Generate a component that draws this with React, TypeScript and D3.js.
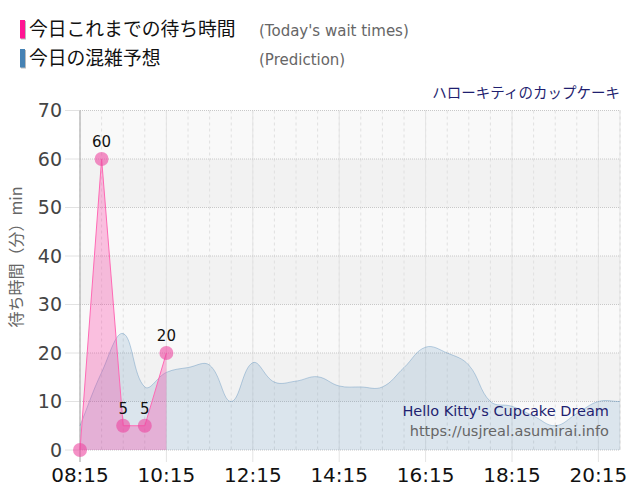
import React from "react";
import * as d3 from "d3";

const actualTimes = ["08:15", "08:45", "09:15", "09:45", "10:15"];
const actualValues = [0, 60, 5, 5, 20];

const predTimes = [
  "08:15", "08:45", "09:15", "09:45", "10:15", "10:45", "11:15", "11:45",
  "12:15", "12:45", "13:15", "13:45", "14:15", "14:45", "15:15", "15:45",
  "16:15", "16:45", "17:15", "17:45", "18:15", "18:45", "19:15", "19:45",
  "20:15", "20:45",
];
const predValues = [
  5, 16, 24, 13, 16, 17, 17.5, 10,
  18, 14, 14.2, 15.1, 13.2, 13, 13, 17,
  21.2, 20, 17.5, 10, 9, 7, 5, 7.5,
  10, 10,
];

const xTickLabels = ["08:15", "10:15", "12:15", "14:15", "16:15", "18:15", "20:15"];
const yTicks = [0, 10, 20, 30, 40, 50, 60, 70];

const legendJa = ["今日これまでの待ち時間", "今日の混雑予想"];
const legendEn = ["(Today's wait times)", "(Prediction)"];
const legendColors = ["#ff1493", "#4682b4"];
const titleText = "ハローキティのカップケーキ";
const yTitle = "待ち時間（分）min";
const watermark1 = "Hello Kitty's Cupcake Dream";
const watermark2 = "https://usjreal.asumirai.info";

const toMin = (s: string) => {
  const [h, m] = s.split(":").map(Number);
  return h * 60 + m;
};

const W = 640, H = 500;
const L = 80, R = 620, T = 110.5, B = 450;
const x = d3.scaleLinear().domain([toMin("08:15"), toMin("20:45")]).range([L, R]);
const y = d3.scaleLinear().domain([0, 70]).range([B, T]);

const latin = "'DejaVu Sans', Verdana, sans-serif";
const cjk = "'Noto Sans CJK JP', 'Noto Sans', sans-serif";

// Chart.js-like bezier spline (tension 0.4)
function splinePath(pts: [number, number][], tension = 0.4, closeTo?: number) {
  const p = d3.path();
  const cps = pts.map((cur, i) => {
    const prev = pts[i - 1] || cur;
    const next = pts[i + 1] || cur;
    const d01 = Math.hypot(cur[0] - prev[0], cur[1] - prev[1]);
    const d12 = Math.hypot(next[0] - cur[0], next[1] - cur[1]);
    let s01 = d01 / (d01 + d12);
    let s12 = d12 / (d01 + d12);
    if (!isFinite(s01)) s01 = 0;
    if (!isFinite(s12)) s12 = 0;
    const fa = tension * s01, fb = tension * s12;
    const c1: [number, number] = [cur[0] - fa * (next[0] - prev[0]), cur[1] - fa * (next[1] - prev[1])];
    const c2: [number, number] = [cur[0] + fb * (next[0] - prev[0]), cur[1] + fb * (next[1] - prev[1])];
    c1[1] = Math.min(Math.max(c1[1], T), B);
    c2[1] = Math.min(Math.max(c2[1], T), B);
    return { c1, c2 };
  });
  p.moveTo(pts[0][0], pts[0][1]);
  for (let i = 1; i < pts.length; i++) {
    const a = cps[i - 1].c2, b = cps[i].c1;
    p.bezierCurveTo(a[0], a[1], b[0], b[1], pts[i][0], pts[i][1]);
  }
  if (closeTo !== undefined) {
    p.lineTo(pts[pts.length - 1][0], closeTo);
    p.lineTo(pts[0][0], closeTo);
    p.closePath();
  }
  return p.toString();
}

export default function App() {
  const predPts: [number, number][] = predTimes.map((t, i) => [x(toMin(t)), y(predValues[i])]);
  const actPts: [number, number][] = actualTimes.map((t, i) => [x(toMin(t)), y(actualValues[i])]);

  const line = d3.line<[number, number]>().x((d) => d[0]).y((d) => d[1]);
  const area = d3.area<[number, number]>().x((d) => d[0]).y0(y(0)).y1((d) => d[1]);

  const bands = d3.range(0, 70, 10);
  const gridMins = d3.range(toMin("08:15"), toMin("20:45") + 1, 30);

  return (
    <svg width={W} height={H} style={{ display: "block", position: "absolute", left: 0, top: 0 }}>
      <rect width={W} height={H} fill="#fff" />
      {legendJa.map((t, i) => (
        <g key={t}>
          <rect x={21} y={21 + i * 29} width={5} height={18.5} fill="#bbb" />
          <rect x={20} y={20 + i * 29} width={5} height={18.5} fill={legendColors[i]} />
          <text x={29} y={36 + i * 29} fontFamily={cjk} fontSize={18.8} fill="#111">{t}</text>
          <text x={259} y={36 + i * 29} fontFamily={latin} fontSize={15} fill="#666">{legendEn[i]}</text>
        </g>
      ))}
      <text x={620} y={98} textAnchor="end" fontFamily={cjk} fontSize={14.5} fill="#1f1f70">{titleText}</text>

      {bands.map((v) => (
        <rect key={v} x={L} y={y(v + 10)} width={R - L} height={y(v) - y(v + 10)}
          fill={(v / 10) % 2 === 1 ? "#f2f2f2" : "#f9f9f9"} />
      ))}
      {gridMins.map((m) => (
        <line key={m} x1={x(m)} x2={x(m)} y1={T} y2={B} stroke="#e0e0e0" strokeDasharray="3,3" />
      ))}
      {xTickLabels.map((t) => (
        <line key={t} x1={x(toMin(t))} x2={x(toMin(t))} y1={T} y2={B + 12} stroke="#e4e4e4" />
      ))}
      <line x1={R} x2={R} y1={T} y2={B} stroke="#ccc" strokeDasharray="1,1" />
      {yTicks.map((v) => (
        <g key={v}>
          <line x1={L} x2={R} y1={y(v)} y2={y(v)} stroke="#c8c8c8" strokeDasharray="1,1" />
          <line x1={65} x2={L} y1={y(v)} y2={y(v)} stroke="#e2e2e2" />
          <text x={62} y={y(v)} dy="0.36em" textAnchor="end" fontFamily={latin} fontSize={19} fill="#444">{v}</text>
        </g>
      ))}
      <line x1={L} x2={L} y1={T} y2={B + 12} stroke="#aaa" />

      <path d={splinePath(predPts, 0.4, y(0))} fill="rgba(70,130,180,0.17)" stroke="none" />
      <path d={splinePath(predPts, 0.4)} fill="none" stroke="rgba(70,130,180,0.35)" strokeWidth={1} />

      <path d={area(actPts) || ""} fill="rgba(255,20,147,0.25)" />
      <path d={line(actPts) || ""} fill="none" stroke="#ff69b4" strokeWidth={1} />
      {actPts.map((p, i) => (
        <circle key={i} cx={p[0]} cy={p[1]} r={7} fill="rgba(236,70,160,0.6)" />
      ))}
      {actPts.map((p, i) =>
        actualValues[i] > 0 ? (
          <text key={"l" + i} x={p[0]} y={p[1] - 12} textAnchor="middle" fontFamily={latin} fontSize={15} fill="#111">
            {actualValues[i]}
          </text>
        ) : null
      )}

      {xTickLabels.map((t) => (
        <text key={t} x={x(toMin(t))} y={482} textAnchor="middle" fontFamily={latin} fontSize={20} fill="#111">{t}</text>
      ))}

      <text transform={`translate(22,257) rotate(-90)`} textAnchor="middle" fontFamily={cjk} fontSize={16} fill="#666">{yTitle}</text>

      <text x={609} y={416} textAnchor="end" fontFamily={latin} fontSize={14.5} fill="#1f1f70">{watermark1}</text>
      <text x={609} y={436} textAnchor="end" fontFamily={latin} fontSize={14.5} fill="#666">{watermark2}</text>
    </svg>
  );
}
